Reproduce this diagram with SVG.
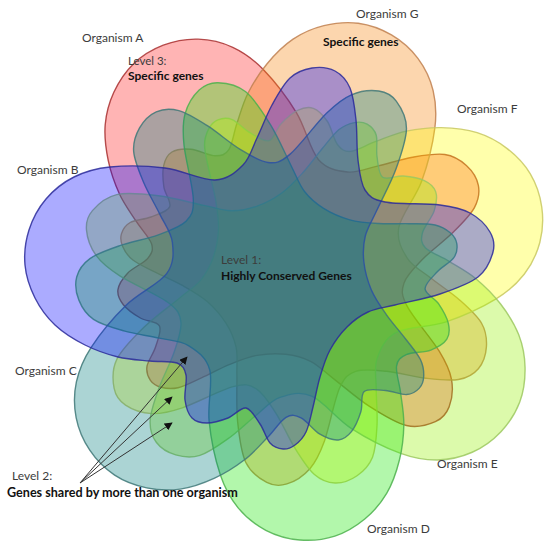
<svg xmlns="http://www.w3.org/2000/svg" xmlns:xlink="http://www.w3.org/1999/xlink" width="550" height="544" viewBox="0 0 550 544">
<style>
.lbl{font-family:Lato,"Liberation Sans",sans-serif;font-size:12px;fill:#3c3c3c}
.b{font-weight:bold;fill:#111}
.set{fill-opacity:0.33;stroke-width:1.4;stroke-opacity:0.85}
.arr{stroke:#333;stroke-width:1;fill:none;marker-end:url(#ah)}
</style>
<defs>
<path id="s" d="M110,167 C125.2,165.5 147.5,165.8 165,168 C182.5,170.2 202,180.5 215,180 C228,179.5 236,172 243,165 C250,158 252.2,148 257,138 C261.8,128 266.5,115 272,105 C277.5,95 283.3,84.2 290,78 C296.7,71.8 304.5,69.2 312,68 C319.5,66.8 328.7,67.7 335,71 C341.3,74.3 346.5,79.8 350,88 C353.5,96.2 354.7,108 356,120 C357.3,132 356.5,148.3 358,160 C359.5,171.7 360.5,183 365,190 C369.5,197 372.5,199.5 385,202 C397.5,204.5 425.8,203.2 440,205 C454.2,206.8 461.7,208.5 470,213 C478.3,217.5 486.2,225.5 490,232 C493.8,238.5 495,244.5 493,252 C491,259.5 486.8,270 478,277 C469.2,284 453.8,289.3 440,294 C426.2,298.7 407,302 395,305 C383,308 376,308.3 368,312 C360,315.7 353.3,320.7 347,327 C340.7,333.3 334.5,341.7 330,350 C325.5,358.3 322.8,367.5 320,377 C317.2,386.5 315.3,397.8 313,407 C310.7,416.2 309,425.7 306,432 C303,438.3 298.8,442.2 295,445 C291.2,447.8 287.2,449.3 283,449 C278.8,448.7 273.8,447.2 270,443 C266.2,438.8 264,429.8 260,424 C256,418.2 251.3,409 246,408 C240.7,407 234.5,415.5 228,418 C221.5,420.5 213,423 207,423 C201,423 195.7,421.8 192,418 C188.3,414.2 186,407.2 185,400 C184,392.8 187.3,381.2 186,375 C184.7,368.8 183,365.3 177,363 C171,360.7 159.8,362 150,361 C140.2,360 128.8,359.7 118,357 C107.2,354.3 95.5,350.3 85,345 C74.5,339.7 63.3,332.8 55,325 C46.7,317.2 40,308 35,298 C30,288 26,276.3 25,265 C24,253.7 25.5,241 29,230 C32.5,219 38.5,207.8 46,199 C53.5,190.2 63.3,182.3 74,177 C84.7,171.7 94.8,168.5 110,167 Z"/>
<marker id="ah" viewBox="0 0 10 10" refX="9" refY="5" markerWidth="8" markerHeight="8" orient="auto" markerUnits="userSpaceOnUse"><path d="M0,0 L10,5 L0,10 z" fill="#111"/></marker>
</defs>
<g id="organism-A"><use xlink:href="#s" href="#s" class="set" fill="#ff1a1a" stroke="#a83030" transform="rotate(51.43 288 277)"/></g>
<g id="organism-G"><use xlink:href="#s" href="#s" class="set" fill="#f5820a" stroke="#c08050" transform="rotate(102.86 288 277)"/></g>
<g id="organism-F"><use xlink:href="#s" href="#s" class="set" fill="#ffff00" stroke="#c8c860" transform="rotate(154.29 288 277)"/></g>
<g id="organism-E"><use xlink:href="#s" href="#s" class="set" fill="#96f000" stroke="#9cc860" transform="rotate(205.71 288 277)"/></g>
<g id="organism-D"><use xlink:href="#s" href="#s" class="set" fill="#14e600" stroke="#4cb04c" transform="rotate(257.14 288 277)"/></g>
<g id="organism-C"><use xlink:href="#s" href="#s" class="set" fill="#007d7d" stroke="#407878" transform="rotate(308.57 288 277)"/></g>
<g id="organism-B"><use xlink:href="#s" href="#s" class="set" fill="#0000ff" stroke="#2a2a9a"/></g>
<g id="connectors">
<line class="arr" x1="80" y1="483" x2="187" y2="357"/>
<line class="arr" x1="80" y1="483" x2="172" y2="397"/>
<line class="arr" x1="80" y1="483" x2="172" y2="423"/>
</g>
<g id="labels">
<text class="lbl" x="82" y="42">Organism A</text>
<text class="lbl" x="356" y="18">Organism G</text>
<text class="lbl b" x="323" y="46">Specific genes</text>
<text class="lbl" x="128" y="65" style="font-size:11.5px">Level 3:</text>
<text class="lbl b" x="128" y="79.5">Specific genes</text>
<text class="lbl" x="457" y="113">Organism F</text>
<text class="lbl" x="17" y="174">Organism B</text>
<text class="lbl" x="15" y="375">Organism C</text>
<text class="lbl" x="437" y="468">Organism E</text>
<text class="lbl" x="367" y="533">Organism D</text>
<text class="lbl" x="221" y="264">Level 1:</text>
<text class="lbl b" x="221" y="280">Highly Conserved Genes</text>
<text class="lbl" x="12" y="480">Level 2:</text>
<text class="lbl b" x="7" y="497" style="font-size:12.6px">Genes shared by more than one organism</text>
</g>
</svg>
